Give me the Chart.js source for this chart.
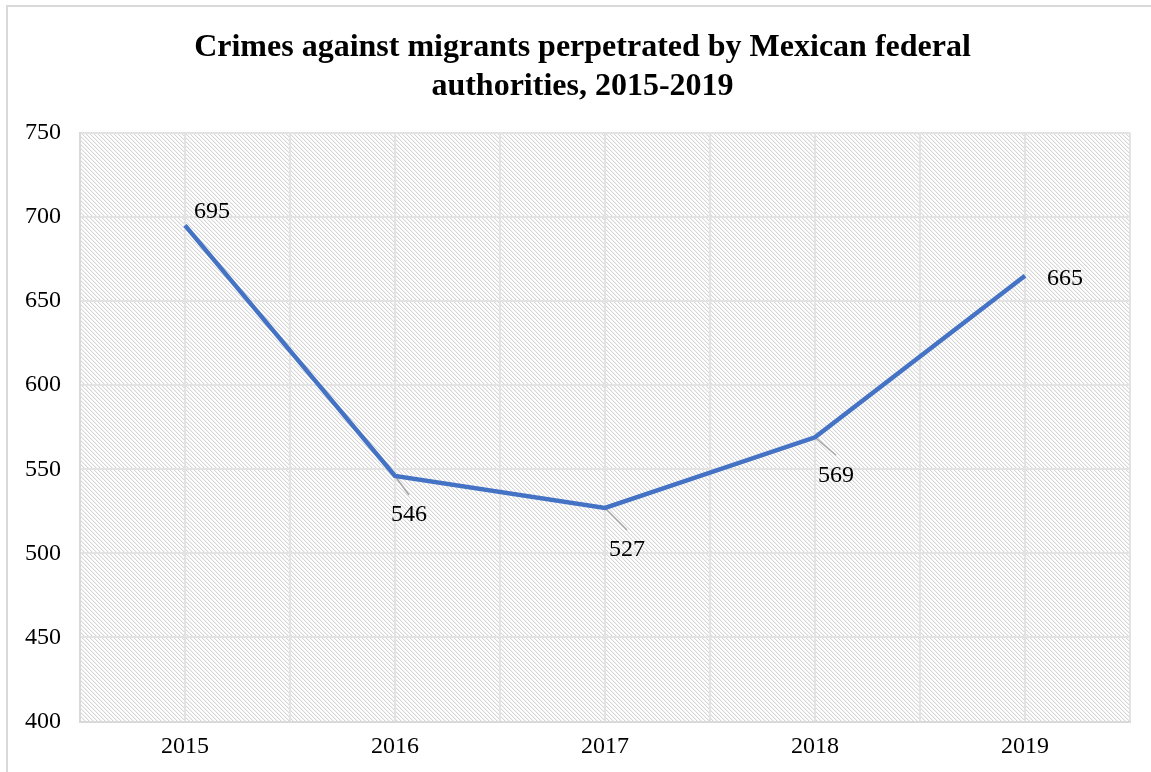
<!DOCTYPE html>
<html>
<head>
<meta charset="utf-8">
<title>Crimes against migrants</title>
<script src="https://cdn.jsdelivr.net/npm/chart.js@4.4.1/dist/chart.umd.min.js"></script>
<style>
  html, body { margin: 0; padding: 0; background: #ffffff; }
  #wrap { position: relative; width: 1151px; height: 772px; }
</style>
</head>
<body>
<div id="wrap"><canvas id="crimesChart"></canvas></div>
<script>
// data
var years = ["2015", "2016", "2017", "2018", "2019"];
var crimes = [695, 546, 527, 569, 665];
var yTicks = [400, 450, 500, 550, 600, 650, 700, 750];

// where each value label sits relative to its point (dx, dy, leader line or not)
var labelPlace = [
    { dx: 27, dy: -14, leader: false },
    { dx: 14, dy: 39, leader: true },
    { dx: 22, dy: 42, leader: true },
    { dx: 21, dy: 38, leader: true },
    { dx: 40, dy: 3, leader: false }
];

var serif = "'Liberation Serif', 'Times New Roman', serif";

// light downward diagonal hatch, 4px period
function makeHatch() {
    var c = document.createElement('canvas');
    c.width = 4; c.height = 4;
    var g = c.getContext('2d');
    g.fillStyle = '#ffffff';
    g.fillRect(0, 0, 4, 4);
    for (var i = 0; i < 4; i++) {
        g.fillStyle = '#d6d6d6';
        g.fillRect(i, i, 1, 1);
        g.fillStyle = '#f1f1f1';
        g.fillRect((i + 1) % 4, i, 1, 1);
    }
    return c;
}

var hatchBg = {
    id: 'hatchBg',
    afterLayout: function (chart) {
        // y axis box was narrowed so the title centres like the original; let its labels spill left
        chart.scales.y.left = 0;
    },
    beforeDraw: function (chart) {
        var ctx = chart.ctx;
        var a = chart.chartArea;
        ctx.save();
        // outer frame
        ctx.strokeStyle = '#d9d9d9';
        ctx.lineWidth = 2;
        ctx.strokeRect(7, 6, 1200, 900);
        ctx.fillStyle = ctx.createPattern(makeHatch(), 'repeat');
        ctx.fillRect(a.left, a.top, a.right - a.left, a.bottom - a.top);
        ctx.restore();
    }
};

var valueLabels = {
    id: 'valueLabels',
    beforeDatasetsDraw: function (chart) {
        var ctx = chart.ctx;
        var pts = chart.getDatasetMeta(0).data;
        ctx.save();
        ctx.strokeStyle = '#a6a6a6';
        ctx.lineWidth = 1.5;
        pts.forEach(function (p, i) {
            var pl = labelPlace[i];
            if (!pl.leader) return;
            ctx.beginPath();
            ctx.moveTo(p.x, p.y);
            ctx.lineTo(p.x + pl.dx, p.y + pl.dy - 20);
            ctx.stroke();
        });
        ctx.restore();
    },
    afterDatasetsDraw: function (chart) {
        var ctx = chart.ctx;
        var pts = chart.getDatasetMeta(0).data;
        ctx.save();
        ctx.fillStyle = '#000000';
        ctx.font = '24px ' + serif;
        ctx.textAlign = 'center';
        ctx.textBaseline = 'middle';
        pts.forEach(function (p, i) {
            var pl = labelPlace[i];
            ctx.fillText(String(crimes[i]), p.x + pl.dx, p.y + pl.dy);
        });
        ctx.restore();
    }
};

var points = crimes.map(function (v, i) { return { x: i, y: v }; });

var el = document.getElementById("crimesChart");
var crimesChart = new Chart(el, {
    type: 'line',
    data: {
        datasets: [{
            data: points,
            borderColor: '#4472c4',
            borderWidth: 4.5,
            pointRadius: 0,
            tension: 0,
            fill: false
        }]
    },
    options: {
        responsive: true,
        maintainAspectRatio: false,
        animation: false,
        layout: {
            padding: { left: 35, right: 21, top: 0, bottom: 0 }
        },
        plugins: {
            legend: { display: false },
            tooltip: { enabled: false },
            title: {
                display: true,
                text: ['Crimes against migrants perpetrated by Mexican federal', 'authorities, 2015-2019'],
                color: '#000000',
                font: { family: serif, size: 32, weight: 'bold', lineHeight: 1.2 },
                padding: { top: 29, bottom: 27 }
            }
        },
        scales: {
            x: {
                type: 'linear',
                min: -0.5,
                max: 4.5,
                grid: { color: '#e3e3e3', lineWidth: 2, drawTicks: false },
                border: { color: '#d9d9d9', width: 2 },
                ticks: {
                    stepSize: 0.5,
                    autoSkip: false,
                    maxRotation: 0,
                    padding: 12,
                    color: '#000000',
                    font: { family: serif, size: 24, lineHeight: 1.1 },
                    callback: function (v) {
                        return Number.isInteger(v) ? years[v] : '';
                    }
                }
            },
            y: {
                min: yTicks[0],
                max: yTicks[yTicks.length - 1],
                grid: { color: '#e3e3e3', lineWidth: 2, drawTicks: false },
                border: { color: '#d9d9d9', width: 2 },
                afterFit: function (scale) { scale.width = 45; },
                ticks: {
                    stepSize: yTicks[1] - yTicks[0],
                    padding: 19,
                    color: '#000000',
                    font: { family: serif, size: 24 }
                }
            }
        }
    },
    plugins: [hatchBg, valueLabels]
});
</script>
</body>
</html>
